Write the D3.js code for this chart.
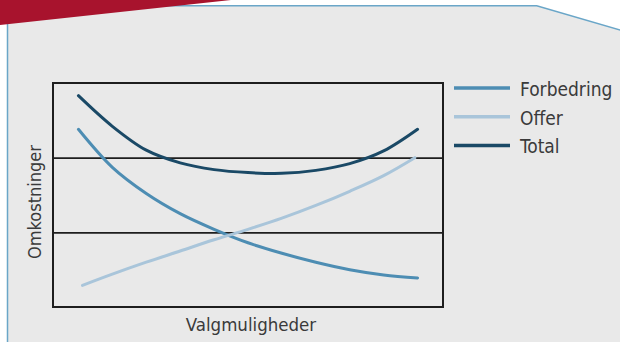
<!DOCTYPE html>
<html>
<head>
<meta charset="utf-8">
<script src="https://cdn.jsdelivr.net/npm/d3@7"></script>
<style>
  html, body { margin: 0; padding: 0; background: #fff; }
  svg { display: block; }
  text { font-family: "DejaVu Sans Condensed", "DejaVu Sans", sans-serif; font-stretch: condensed; fill: #3a3a3a; }
</style>
</head>
<body>
<script>
// Curve readings (x = choice index, y = cost, grid every 1 unit)
const xValues = [0, 1, 2, 3, 4, 5, 6, 7, 8, 9, 10];
const forbedring = [2.38, 1.87, 1.52, 1.25, 1.04, 0.86, 0.72, 0.60, 0.50, 0.43, 0.39];
const offerX = [0.12, 1, 2, 3, 4, 5, 6, 7, 8, 9, 9.92];
const offer = [0.29, 0.44, 0.60, 0.75, 0.90, 1.04, 1.19, 1.36, 1.55, 1.76, 2.0];
const total = [2.83, 2.42, 2.10, 1.93, 1.84, 1.80, 1.79, 1.83, 1.92, 2.09, 2.38];
const gridValues = [1, 2];
const seriesNames = ['Forbedring', 'Offer', 'Total'];
const seriesColors = ['#4d8db3', '#a9c5da', '#1a4966'];
const xTitle = 'Valgmuligheder';
const yTitle = 'Omkostninger';

const W = 620, H = 342;
const margin = {top: 83, left: 53, width: 390, height: 224};

const svg = d3.select('body').append('svg')
    .attr('width', W)
    .attr('height', H);

// Background panel with the slanted corner and the red banner
svg.append('path')
    .attr('d', 'M7.5,' + (H + 2) + 'L7.5,5.7L536.7,5.7L' + (W + 2) + ',30.5L' + (W + 2) + ',' + (H + 2) + 'Z')
    .attr('fill', '#e9e9e9')
    .attr('stroke', '#6aa6c8')
    .attr('stroke-width', 1.5);
svg.append('path')
    .attr('d', 'M0,0L231,0L0,25Z')
    .attr('fill', '#a8132d');

const g = svg.append('g')
    .attr('transform', 'translate(' + margin.left + ',' + margin.top + ')');

const x = d3.scaleLinear()
    .domain([-0.75, 10.75])
    .range([0, margin.width]);
const y = d3.scaleLinear()
    .domain([0, 3])
    .range([margin.height, 0]);

// Grid lines
g.append('g')
    .call(d3.axisLeft(y).tickValues(gridValues).tickSize(-margin.width).tickFormat(''))
    .call(a => a.select('.domain').remove())
    .call(a => a.selectAll('line').attr('stroke', '#1e1e1e').attr('stroke-width', 1.6));

// Plot frame
g.append('rect')
    .attr('x', x(-0.75))
    .attr('y', y(3))
    .attr('width', x(10.75) - x(-0.75))
    .attr('height', y(0) - y(3))
    .attr('fill', 'none')
    .attr('stroke', '#1e1e1e')
    .attr('stroke-width', 2);

const line = d3.line()
    .x(d => x(d[0]))
    .y(d => y(d[1]))
    .curve(d3.curveCatmullRom.alpha(0.5));

const series = [
    d3.zip(xValues, forbedring),
    d3.zip(offerX, offer),
    d3.zip(xValues, total)
];

g.selectAll('.series')
    .data(series)
    .enter().append('path')
    .attr('class', 'series')
    .attr('d', line)
    .attr('fill', 'none')
    .attr('stroke', (d, i) => seriesColors[i])
    .attr('stroke-width', 3)
    .attr('stroke-linecap', 'round');

// Axis titles
svg.append('text')
    .attr('x', 251)
    .attr('y', 331)
    .attr('text-anchor', 'middle')
    .style('font-size', '18.5px')
    .text(xTitle);

svg.append('text')
    .attr('transform', 'translate(41,202) rotate(-90)')
    .attr('text-anchor', 'middle')
    .style('font-size', '18px')
    .text(yTitle);

// Legend
const legend = svg.append('g')
    .attr('transform', 'translate(454,88)');
const item = legend.selectAll('g')
    .data(seriesNames)
    .enter().append('g')
    .attr('transform', (d, i) => 'translate(0,' + (i * 28.7) + ')');
item.append('line')
    .attr('x1', 0).attr('x2', 56)
    .attr('stroke', (d, i) => seriesColors[i])
    .attr('stroke-width', 3.5);
item.append('text')
    .attr('x', 66)
    .attr('y', 8)
    .style('font-size', '19px')
    .text(d => d);
</script>
</body>
</html>
